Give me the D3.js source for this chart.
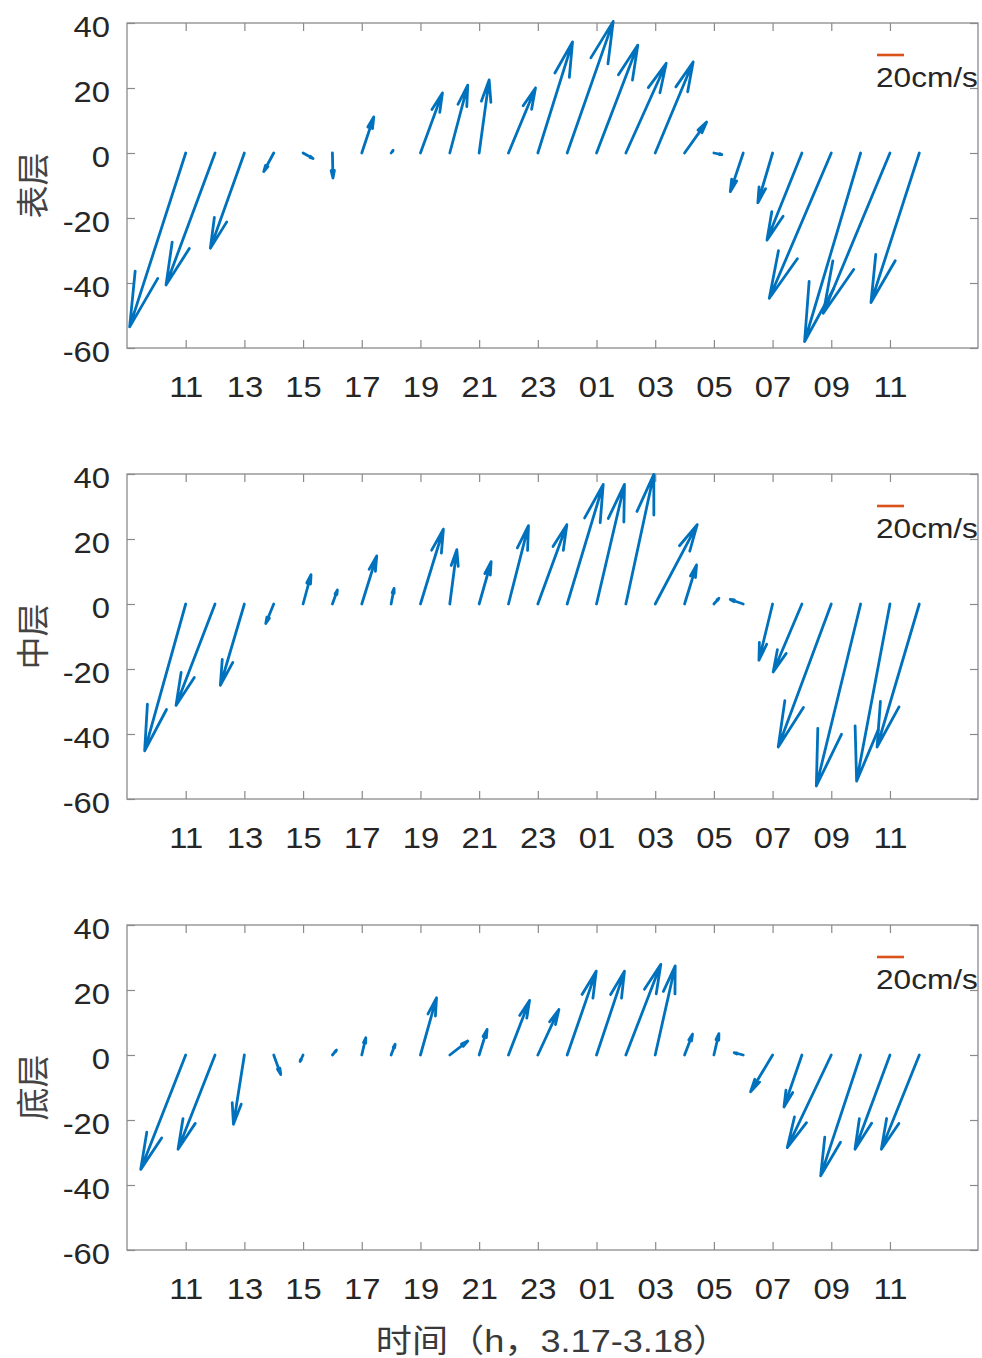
<!DOCTYPE html>
<html><head><meta charset="utf-8">
<script src="https://cdn.jsdelivr.net/npm/d3@7/dist/d3.min.js"></script>
<style>
body{margin:0;background:#fff}
svg{display:block}
text{font-family:"Liberation Sans",Arial,"Noto Sans CJK SC",sans-serif;fill:#2a2a2a}
</style>
</head><body>
<svg id="c" width="982" height="1358"></svg>
<script>
// ---------- data ----------
const hours = [11,12,13,14,15,16,17,18,19,20,21,22,23,24,25,26,27,28,29,30,31,32,33,34,35,36];
const xTicks = [11,13,15,17,19,21,23,25,27,29,31,33,35];
const xTickLabels = ["11","13","15","17","19","21","23","01","03","05","07","09","11"];
const yTicks = [-60,-40,-20,0,20,40];
const yTickLabels = ["-60","-40","-20","0","20","40"];
const layerNames = ["表层","中层","底层"];
const xLabel = "时间（h，3.17-3.18）";
const refSpeed = 20;
const refLabel = "20cm/s";

// east (u) and north (v) components, cm/s
const surfaceU = [-41.5,-36.3,-25.2,-7.4,7.4,0.4,8.9,1.5,16.3,13.3,7.4,20,25.7,34.1,30.6,29.9,28.1,16.3,5.9,-9.6,-10.9,-25.9,-45.9,-41.5,-49.4,-35.8];
const surfaceV = [-53.5,-40.6,-29.3,-5.7,-1.7,-7.7,11.1,0.8,18.5,20.9,22.5,20,34.2,40.5,33.2,27.6,28,9.5,-0.5,-11.9,-15.3,-26.8,-44.7,-58,-49.3,-46];
const middleU = [-30.4,-28.9,-17.8,-5.9,5.9,3.7,11.1,2.2,17,5.2,8.9,14.8,21.5,26.7,20.7,20.7,31.1,8.9,3.7,-9.6,-10.1,-21.3,-39.3,-32.8,-24.7,-31.3];
const middleV = [-45.2,-31.2,-25,-6,9,4.3,14.8,4.8,23,16.7,13,24.1,24.4,36.8,36.8,39.9,24.4,12,1.75,1.4,-17.3,-20.9,-44,-56,-54.5,-44];
const bottomU = [-33.3,-27.4,-8.1,5.2,-2.2,3,3,3,11.9,13.3,5.9,15.6,15.6,21.5,20.7,25.9,14.8,5.9,3.7,-6.7,-16.3,-13.3,-32.6,-29.6,-25.9,-28.1];
const bottomV = [-35.2,-29,-21.3,-6,-2,1.5,5.3,3.3,17.6,4.3,7.9,16.8,14,25.8,25.8,27.9,27.4,6.4,6.6,0.7,-11.3,-16,-28.5,-37.2,-29,-29];

const layersU = [surfaceU, middleU, bottomU];
const layersV = [surfaceV, middleV, bottomV];

// ---------- layout ----------
const left = 127, right = 978, ph = 325;
const tops = [23, 474, 925];
const SX = 1.13; // horizontal stretch of the text
const blue = "#0072BD", orange = "#D95319", axisCol = "#8a8a8a";

const svg = d3.select("#c");
const x = d3.scaleLinear().domain([9, 38]).range([left, right]);
const uScale = d3.scaleLinear().domain([0, refSpeed]).range([0, 27]);

layerNames.forEach((name, k) => {
  const top = tops[k];
  const y = d3.scaleLinear().domain([-60, 40]).range([top + ph, top]);
  const g = svg.append("g");

  // axes
  const gb = g.append("g").attr("transform", `translate(0,${top + ph})`)
    .call(d3.axisBottom(x).tickValues(xTicks).tickFormat((d, i) => xTickLabels[i])
      .tickSizeInner(-8).tickSizeOuter(0).tickPadding(28));
  const gt = g.append("g").attr("transform", `translate(0,${top})`)
    .call(d3.axisTop(x).tickValues(xTicks).tickFormat("").tickSizeInner(-8).tickSizeOuter(0));
  const gl = g.append("g").attr("transform", `translate(${left},0)`)
    .call(d3.axisLeft(y).tickValues(yTicks).tickFormat((d, i) => yTickLabels[i])
      .tickSizeInner(-8).tickSizeOuter(0).tickPadding(15));
  const gr = g.append("g").attr("transform", `translate(${right},0)`)
    .call(d3.axisRight(y).tickValues(yTicks).tickFormat("").tickSizeInner(-8).tickSizeOuter(0));
  [gb, gt, gl, gr].forEach(a => {
    a.select(".domain").remove();
    a.selectAll(".tick line").attr("stroke", axisCol).attr("stroke-width", 1.2);
    a.selectAll("text").attr("font-size", 29).attr("font-family", null).style("fill", "#262626");
  });
  gb.selectAll("text").attr("transform", `scale(${SX},1)`);
  gl.selectAll("text").attr("transform", `scale(${SX},1)`).attr("dy", "0.45em");

  g.append("rect").attr("x", left).attr("y", top).attr("width", right - left).attr("height", ph)
    .attr("fill", "none").attr("stroke", axisCol).attr("stroke-width", 1.3);

  // y label
  g.append("text").attr("transform", `translate(33,${top + ph / 2}) rotate(-90)`)
    .attr("text-anchor", "middle").attr("dy", "0.36em").attr("font-size", 33)
    .style("fill", "#444").text(name);

  // arrows
  const U = layersU[k], V = layersV[k];
  const arrows = hours.map((h, i) => {
    const x0 = x(h), y0 = y(0);
    const x1 = x0 + uScale(U[i]), y1 = y(V[i]);
    const dx = x1 - x0, dy = y1 - y0, L = Math.hypot(dx, dy) || 1;
    const ux = dx / L, uy = dy / L;
    const hl = 0.3 * L, hw = 0.065 * L;
    const bx = x1 - ux * hl, by = y1 - uy * hl;
    const b1 = [bx - uy * hw, by + ux * hw], b2 = [bx + uy * hw, by - ux * hw];
    return `M${x0},${y0}L${x1},${y1}M${b1[0]},${b1[1]}L${x1},${y1}L${b2[0]},${b2[1]}`;
  });
  g.append("g").selectAll("path").data(arrows).join("path")
    .attr("d", d => d).attr("fill", "none").attr("stroke", blue)
    .attr("stroke-width", 2.8).attr("stroke-linecap", "round").attr("stroke-linejoin", "round");

  // reference arrow / scale bar
  g.append("line").attr("x1", 877).attr("x2", 877 + uScale(refSpeed))
    .attr("y1", top + 32).attr("y2", top + 32).attr("stroke", orange).attr("stroke-width", 2.6);
  g.append("text").attr("transform", `translate(876,${top + 64}) scale(${SX},1)`)
    .attr("font-size", 28).style("fill", "#262626").text(refLabel);
});

// x label
svg.append("text").attr("transform", `translate(${(left + right) / 2},1352) scale(${SX},1)`)
  .attr("text-anchor", "middle").attr("font-size", 32).style("fill", "#3a3a3a").text(xLabel);
</script>
</body></html>
